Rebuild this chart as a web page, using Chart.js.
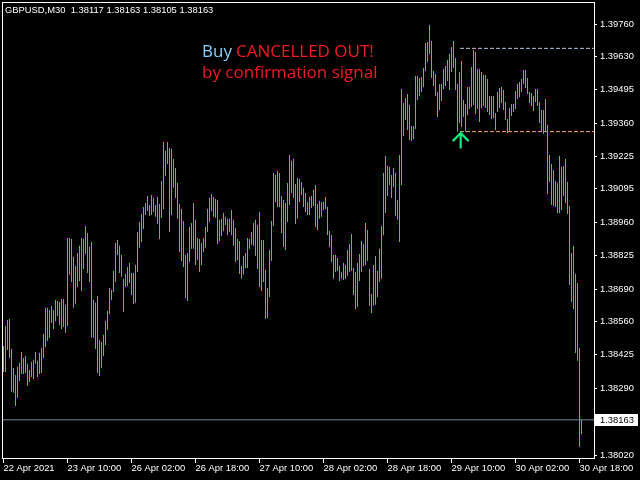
<!DOCTYPE html>
<html><head><meta charset="utf-8">
<script src="https://cdn.jsdelivr.net/npm/chart.js@4"></script>
<style>html,body{margin:0;padding:0;background:#000;}canvas{display:block;}</style>
</head><body>
<canvas id="c" width="640" height="480"></canvas>
<script>
const symbolTitle = 'GBPUSD,M30';
const lastBarOHLC = [1.38117, 1.38163, 1.38105, 1.38163];
const highs = [
1.38461,1.38542,1.38566,1.38570,1.38449,1.38372,1.38344,1.38377,1.38393,1.38437,
1.38413,1.38421,1.38389,1.38364,1.38397,1.38405,1.38437,1.38401,1.38433,1.38453,
1.38510,1.38615,1.38615,1.38606,1.38623,1.38606,1.38647,1.38643,1.38639,1.38651,
1.38651,1.38627,1.38897,1.38897,1.38893,1.38820,1.38784,1.38836,1.38865,1.38897,
1.38893,1.38945,1.38917,1.38861,1.38881,1.38647,1.38635,1.38663,1.38485,1.38477,
1.38506,1.38562,1.38602,1.38695,1.38687,1.38764,1.38877,1.38889,1.38865,1.38828,
1.38732,1.38752,1.38780,1.38796,1.38756,1.38756,1.38788,1.38921,1.38961,1.38994,
1.39022,1.39038,1.39066,1.39030,1.39070,1.39058,1.39030,1.39062,1.39034,1.39127,
1.39284,1.39248,1.39284,1.39260,1.39256,1.39216,1.39179,1.39119,1.39034,1.39014,
1.38965,1.38828,1.38836,1.38941,1.38957,1.39038,1.38970,1.38897,1.38893,1.38877,
1.38897,1.38941,1.39014,1.39058,1.39074,1.39062,1.39054,1.39050,1.38970,1.38974,
1.38998,1.38982,1.38974,1.38974,1.39010,1.38970,1.38937,1.38893,1.38885,1.38784,
1.38824,1.38836,1.38897,1.38893,1.38921,1.38957,1.38970,1.38949,1.39002,1.38889,
1.38889,1.38768,1.38695,1.38848,1.38965,1.39159,1.39151,1.39167,1.39159,1.39066,
1.39050,1.39038,1.39119,1.39232,1.39208,1.39216,1.39115,1.39139,1.39135,1.39123,
1.39099,1.39078,1.39042,1.39062,1.39066,1.39091,1.39111,1.39034,1.39046,1.39042,
1.39042,1.39062,1.39022,1.38925,1.38909,1.38828,1.38828,1.38816,1.38784,1.38760,
1.38796,1.38788,1.38848,1.38873,1.38913,1.38776,1.38760,1.38796,1.38832,1.38885,
1.38873,1.38957,1.38929,1.38772,1.38671,1.38788,1.38824,1.38764,1.38853,1.38945,
1.39159,1.39228,1.39187,1.39183,1.39151,1.39179,1.39159,1.39050,1.39232,1.39498,
1.39441,1.39462,1.39478,1.39433,1.39349,1.39349,1.39550,1.39550,1.39542,1.39546,
1.39583,1.39684,1.39688,1.39756,1.39692,1.39571,1.39558,1.39486,1.39518,1.39518,
1.39579,1.39591,1.39615,1.39639,1.39667,1.39692,1.39623,1.39518,1.39567,1.39611,
1.39454,1.39437,1.39506,1.39506,1.39587,1.39655,1.39647,1.39579,1.39579,1.39567,
1.39554,1.39554,1.39538,1.39470,1.39470,1.39470,1.39401,1.39486,1.39502,1.39506,
1.39494,1.39446,1.39377,1.39421,1.39437,1.39437,1.39490,1.39518,1.39526,1.39538,
1.39575,1.39575,1.39542,1.39486,1.39482,1.39470,1.39498,1.39498,1.39446,1.39413,
1.39413,1.39458,1.39353,1.39232,1.39195,1.39171,1.39127,1.39119,1.39228,1.39183,
1.39187,1.39216,1.39123,1.39026,1.38836,1.38865,1.38752,1.38715,1.38453,1.38163
];
const lows = [
1.38356,1.38356,1.38445,1.38413,1.38276,1.38272,1.38219,1.38251,1.38320,1.38348,
1.38348,1.38352,1.38300,1.38316,1.38336,1.38328,1.38389,1.38336,1.38348,1.38352,
1.38413,1.38457,1.38481,1.38494,1.38554,1.38530,1.38562,1.38582,1.38546,1.38530,
1.38538,1.38514,1.38542,1.38748,1.38719,1.38615,1.38631,1.38699,1.38723,1.38683,
1.38772,1.38832,1.38756,1.38719,1.38494,1.38494,1.38449,1.38352,1.38340,1.38372,
1.38421,1.38465,1.38526,1.38590,1.38647,1.38679,1.38719,1.38828,1.38756,1.38740,
1.38598,1.38699,1.38703,1.38715,1.38667,1.38631,1.38635,1.38760,1.38857,1.38881,
1.38933,1.38990,1.39006,1.38986,1.38990,1.39002,1.38982,1.38953,1.38893,1.38978,
1.39014,1.39147,1.39195,1.38921,1.38990,1.39099,1.39058,1.38974,1.38840,1.38804,
1.38780,1.38655,1.38643,1.38800,1.38853,1.38853,1.38788,1.38808,1.38760,1.38788,
1.38840,1.38857,1.38921,1.38961,1.39006,1.38982,1.38978,1.38873,1.38885,1.38905,
1.38925,1.38949,1.38909,1.38921,1.38909,1.38865,1.38800,1.38808,1.38752,1.38732,
1.38748,1.38776,1.38776,1.38853,1.38869,1.38865,1.38824,1.38772,1.38699,1.38683,
1.38719,1.38570,1.38574,1.38659,1.38804,1.38945,1.39042,1.39022,1.39022,1.38917,
1.38861,1.38848,1.38961,1.39030,1.39078,1.39058,1.38953,1.38974,1.39042,1.39070,
1.39022,1.39002,1.38990,1.38990,1.39018,1.39026,1.38941,1.38929,1.38974,1.38982,
1.39010,1.39014,1.38909,1.38861,1.38800,1.38732,1.38760,1.38764,1.38723,1.38732,
1.38727,1.38732,1.38744,1.38760,1.38764,1.38667,1.38610,1.38619,1.38723,1.38760,
1.38784,1.38788,1.38804,1.38623,1.38594,1.38623,1.38627,1.38659,1.38719,1.38732,
1.38909,1.38998,1.39066,1.39111,1.39058,1.39103,1.38986,1.38970,1.38881,1.39111,
1.39308,1.39373,1.39333,1.39292,1.39288,1.39296,1.39337,1.39454,1.39470,1.39486,
1.39506,1.39571,1.39607,1.39639,1.39542,1.39510,1.39470,1.39385,1.39413,1.39450,
1.39498,1.39510,1.39530,1.39494,1.39567,1.39583,1.39494,1.39325,1.39361,1.39345,
1.39385,1.39325,1.39393,1.39417,1.39425,1.39433,1.39397,1.39417,1.39365,1.39421,
1.39429,1.39421,1.39405,1.39393,1.39377,1.39381,1.39333,1.39405,1.39421,1.39441,
1.39413,1.39373,1.39320,1.39329,1.39389,1.39405,1.39417,1.39458,1.39466,1.39486,
1.39518,1.39502,1.39478,1.39441,1.39429,1.39409,1.39446,1.39429,1.39361,1.39329,
1.39316,1.39325,1.39074,1.39123,1.39030,1.39026,1.39022,1.38998,1.38998,1.39010,
1.39066,1.39038,1.38994,1.38707,1.38639,1.38610,1.38433,1.38401,1.38054,1.38105
];
const xTickBars = [0, 32, 64, 96, 128, 160, 192, 224, 256, 288];
const xTickLabels = ['22 Apr 2021','23 Apr 10:00','26 Apr 02:00','26 Apr 18:00','27 Apr 10:00',
  '28 Apr 02:00','28 Apr 18:00','29 Apr 10:00','30 Apr 02:00','30 Apr 18:00'];
const yTickValues = [1.39760,1.39630,1.39495,1.39360,1.39225,1.39095,1.38960,1.38825,
  1.38690,1.38560,1.38425,1.38290,1.38020];
const upperLevel = 1.39662;
const lowerLevel = 1.39326;
const levelStartBar = 228.25;
const signalBar = 228.6;
const signalPrice = 1.39326;
const noteBuy = 'Buy';
const noteCancel = 'CANCELLED OUT!';
const noteLine2 = 'by confirmation signal';

const FONT = '"Liberation Sans",Arial,sans-serif';
const FSIZE = 9.4;
const xMin = -0.75, xMax = 295.25;
const yMin = 1.38005, yMax = 1.39849;
const lastClose = lastBarOHLC[3];

const barData = highs.map((h, i) => ({x: i, y: [lows[i], h]}));

const overlayPlugin = {
  id: 'overlay',
  afterDraw(chart) {
    const {ctx, chartArea: a} = chart;
    const xs = chart.scales.x, ys = chart.scales.y;
    ctx.save();
    // frame
    ctx.strokeStyle = '#ffffff';
    ctx.lineWidth = 1;
    ctx.strokeRect(a.left + 0.5, a.top + 0.5, a.right - a.left, a.bottom - a.top - 1);
    // header
    ctx.fillStyle = '#ffffff';
    ctx.font = FSIZE + 'px ' + FONT;
    ctx.textBaseline = 'middle';
    ctx.textAlign = 'left';
    ctx.fillText(symbolTitle + '  ' + lastBarOHLC.map(v => v.toFixed(5)).join(' '), 5, 10);
    // price box
    const py = ys.getPixelForValue(lastClose);
    ctx.fillStyle = '#ffffff';
    ctx.fillRect(a.right + 1, Math.round(py) - 6, 43, 12);
    ctx.fillStyle = '#000000';
    ctx.fillText(lastClose.toFixed(5), a.right + 6, py + 0.5);
    // annotation
    ctx.font = '17px "Open Sans", "Noto Sans", sans-serif';
    ctx.textBaseline = 'alphabetic';
    ctx.fillStyle = '#87cefa';
    ctx.fillText(noteBuy, 202, 57);
    ctx.fillStyle = '#f01c24';
    ctx.fillText(noteCancel, 236, 57);
    ctx.fillText(noteLine2, 202, 78);
    // arrow
    const ax = xs.getPixelForValue(signalBar), ay = ys.getPixelForValue(signalPrice);
    ctx.strokeStyle = '#14ec80';
    ctx.lineWidth = 2.2;
    ctx.lineJoin = 'miter';
    ctx.beginPath();
    ctx.moveTo(ax, ay + 2);
    ctx.lineTo(ax, ay + 17);
    ctx.moveTo(ax - 8, ay + 9.5);
    ctx.lineTo(ax, ay + 1.5);
    ctx.lineTo(ax + 8, ay + 9.5);
    ctx.stroke();
    ctx.restore();
  }
};

new Chart(document.getElementById('c').getContext('2d'), {
  type: 'bar',
  data: {
    datasets: [
      {type: 'bar', data: barData, backgroundColor: '#00ff00', borderWidth: 0,
       barThickness: 1, inflateAmount: 0, grouped: false, order: 0},
      {type: 'line', data: [{x: xMin, y: lastClose}, {x: xMax, y: lastClose}],
       borderColor: '#778899', borderWidth: 1, pointRadius: 0, order: 3},
      {type: 'line', data: [{x: levelStartBar, y: upperLevel}, {x: xMax, y: upperLevel}],
       borderColor: '#b0c4de', borderWidth: 1, borderDash: [4, 2], pointRadius: 0, order: 1},
      {type: 'line', data: [{x: levelStartBar, y: lowerLevel}, {x: xMax, y: lowerLevel}],
       borderColor: '#ffa07a', borderWidth: 1, borderDash: [4, 2], pointRadius: 0, order: 1}
    ]
  },
  options: {
    responsive: false, animation: false, devicePixelRatio: 1,
    layout: {padding: {left: 2, top: 2, right: 0, bottom: 0}},
    plugins: {legend: {display: false}, tooltip: {enabled: false}},
    scales: {
      x: {
        type: 'linear', min: xMin, max: xMax, offset: false, bounds: 'data',
        border: {display: false},
        grid: {drawOnChartArea: false, drawTicks: true, tickLength: 4, color: '#ffffff', offset: false},
        ticks: {color: '#ffffff', font: {family: FONT, size: FSIZE, lineHeight: 1}, padding: 1,
                align: 'start', maxRotation: 0, autoSkip: false,
                callback: (v, i) => xTickLabels[i]},
        afterBuildTicks: s => { s.ticks = xTickBars.map(v => ({value: v})); },
        afterFit: s => { s.height = 21; s.paddingLeft = 0; s.paddingRight = 0; }
      },
      y: {
        type: 'linear', position: 'right', min: yMin, max: yMax, beginAtZero: false, bounds: 'data',
        border: {display: false},
        grid: {drawOnChartArea: false, drawTicks: true, tickLength: 3, color: '#ffffff'},
        ticks: {color: '#ffffff', font: {family: FONT, size: FSIZE}, padding: 3, autoSkip: false,
                callback: v => v.toFixed(5)},
        afterBuildTicks: s => { s.ticks = yTickValues.map(v => ({value: v})); },
        afterFit: s => { s.width = 46; s.paddingTop = 0; s.paddingBottom = 0; }
      }
    }
  },
  plugins: [overlayPlugin]
});
</script>
</body></html>
